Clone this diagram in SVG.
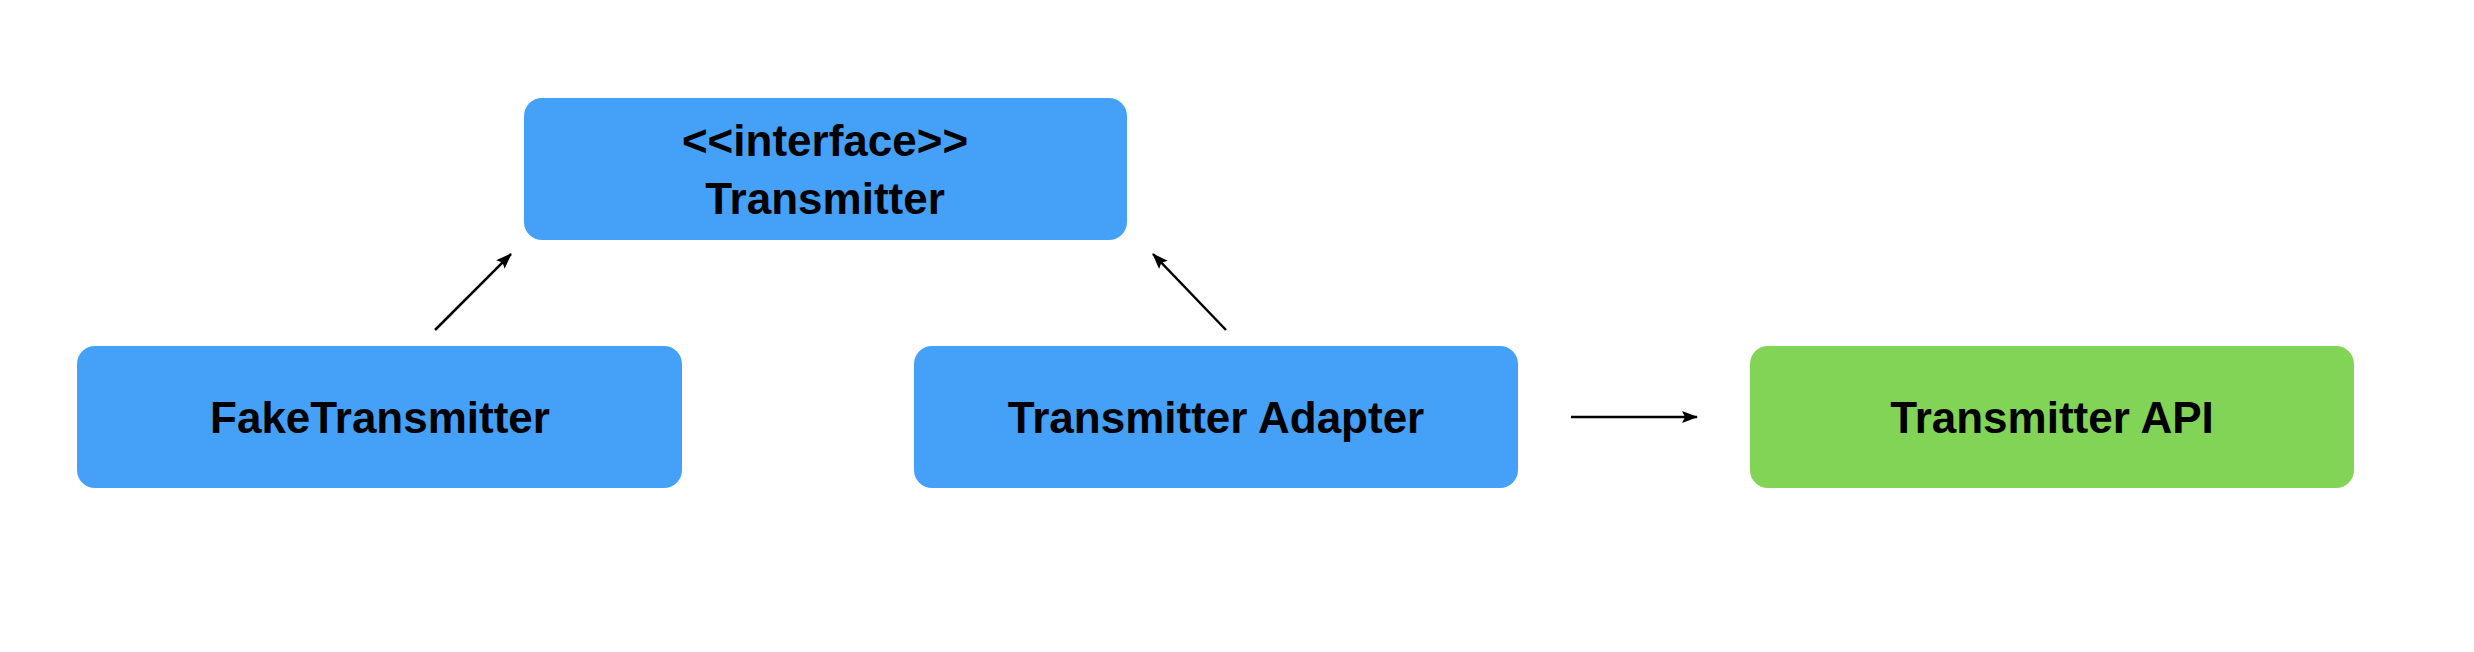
<svg xmlns="http://www.w3.org/2000/svg" width="2474" height="652" viewBox="0 0 2474 652">
<style>
.box{fill:#45A1F7}
.api{fill:#81D455}
.lbl{font-family:"Liberation Sans",Arial,sans-serif;font-weight:bold;font-size:44px;fill:#000;text-anchor:middle}
.edge{stroke:#000;stroke-width:2.5;fill:none;marker-end:url(#ah)}
</style>
<defs>
<marker id="ah" markerUnits="userSpaceOnUse" markerWidth="16" markerHeight="12" refX="15" refY="6" orient="auto">
<path d="M0,0 L16,6 L0,12 L3,6 z" fill="#000"/>
</marker>
</defs>
<rect width="2474" height="652" fill="#fff"/>
<g id="interface">
<rect class="box" x="524" y="98" width="603" height="142" rx="18"/>
<text class="lbl" x="825" y="156">&lt;&lt;interface&gt;&gt;</text>
<text class="lbl" x="825" y="214">Transmitter</text>
</g>
<g id="fake">
<rect class="box" x="77" y="346" width="605" height="142" rx="18"/>
<text class="lbl" x="380" y="433">FakeTransmitter</text>
</g>
<g id="adapter">
<rect class="box" x="914" y="346" width="604" height="142" rx="18"/>
<text class="lbl" x="1216" y="433">Transmitter Adapter</text>
</g>
<g id="api">
<rect class="api" x="1750" y="346" width="604" height="142" rx="18"/>
<text class="lbl" x="2052" y="433">Transmitter API</text>
</g>
<g id="connectors">
<line class="edge" x1="435" y1="330" x2="511" y2="254"/>
<line class="edge" x1="1226" y1="330" x2="1153" y2="254"/>
<line class="edge" x1="1571" y1="417" x2="1697" y2="417"/>
</g>
</svg>
